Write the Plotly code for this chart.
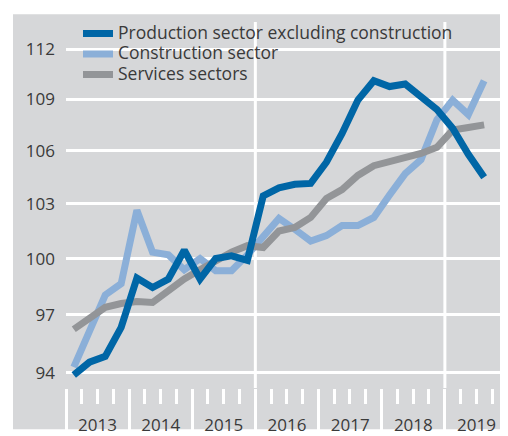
import math
import pandas as pd
import plotly.graph_objects as go

# ---------------- data ----------------
quarters = ["2013Q1", "2013Q2", "2013Q3", "2013Q4",
            "2014Q1", "2014Q2", "2014Q3", "2014Q4",
            "2015Q1", "2015Q2", "2015Q3", "2015Q4",
            "2016Q1", "2016Q2", "2016Q3", "2016Q4",
            "2017Q1", "2017Q2", "2017Q3", "2017Q4",
            "2018Q1", "2018Q2", "2018Q3", "2018Q4",
            "2019Q1", "2019Q2", "2019Q3"]

production_excl_construction = [93.9, 94.55, 94.85, 96.35, 98.95, 98.45, 98.9, 100.45,
                                98.9, 100.0, 100.15, 99.9, 103.45, 103.9, 104.1, 104.15,
                                105.35, 107.0, 108.95, 110.1, 109.75, 109.9, 109.15, 108.4,
                                107.3, 105.8, 104.5]
construction = [94.3, 96.1, 98.05, 98.65, 102.65, 100.35, 100.2, 99.4,
                100.0, 99.35, 99.35, 100.2, 101.15, 102.2, 101.6, 100.95,
                101.25, 101.8, 101.8, 102.25, 103.5, 104.7, 105.5, 107.8,
                108.95, 108.1, 110.1]
services = [96.25, 96.85, 97.4, 97.6, 97.7, 97.65, 98.3, 98.9,
            99.4, 99.9, 100.35, 100.7, 100.6, 101.5, 101.7, 102.25,
            103.3, 103.8, 104.6, 105.15, 105.35, 105.65, 105.85, 106.2,
            107.2, 107.35, 107.5]

y_ticks = [94, 97, 100, 103, 106, 109, 112]
marked_years = ["2016-01-01", "2019-01-01"]

# ---------------- style ----------------
BG = "#d6d7d9"
TXT = "#3a3a3a"
FONT = "Open Sans"
C_PROD = "#0066a6"
C_CONS = "#8bafd8"
C_SERV = "#939598"

per = pd.PeriodIndex(quarters, freq="Q")
x_dates = per.start_time + (per.end_time - per.start_time) / 2

W, H = 508, 436
L, R, T, B = 58, 8, 14, 41
PW, PH = W - L - R, H - T - B
X0, X1 = pd.Timestamp("2013-01-01"), pd.Timestamp("2020-01-01")
Y0, Y1 = math.log10(93.24), math.log10(113.65)


def px_x(p):
    return (p - L) / PW


def px_y(p):
    return (H - B - p) / PH


def px_date(p):
    return X0 + (X1 - X0) * px_x(p)


def px_logy(p):
    return Y0 + (Y1 - Y0) * px_y(p)


def lbl(s):
    return "<span style='font-size:17.5px'>" + s + "</span>"


fig = go.Figure()
fig.add_trace(go.Scatter(x=x_dates, y=construction, name=lbl("Construction sector"),
                         mode="lines", line=dict(color=C_CONS, width=7), legendrank=2))
fig.add_trace(go.Scatter(x=x_dates, y=services, name=lbl("Services sectors"),
                         mode="lines", line=dict(color=C_SERV, width=7), legendrank=3))
fig.add_trace(go.Scatter(x=x_dates, y=production_excl_construction,
                         name=lbl("Production sector excluding construction"),
                         mode="lines", line=dict(color=C_PROD, width=7), legendrank=1))

shapes = [
    # grey panel (white strip at top and left)
    dict(type="rect", xref="paper", yref="paper", x0=px_x(5), x1=px_x(W + 2),
         y0=px_y(H + 2), y1=px_y(6), fillcolor=BG, line=dict(width=0), layer="below"),
]
for d in marked_years:
    shapes.append(dict(type="line", xref="x", yref="paper", x0=d, x1=d, y0=0, y1=1,
                       line=dict(color="white", width=3), layer="below"))
# legend row backgrounds (cover grid where the legend sits)
for x1p, y0p, y1p in [(460, 20, 50), (283, 42, 63), (252, 62, 87)]:
    shapes.append(dict(type="rect", xref="x", yref="y",
                       x0=px_date(66), x1=px_date(x1p),
                       y0=px_logy(y1p), y1=px_logy(y0p),
                       fillcolor=BG, line=dict(width=0), layer="between"))

fig.update_layout(
    width=W, height=H,
    margin=dict(l=L, r=R, t=T, b=B),
    paper_bgcolor="white", plot_bgcolor=BG,
    font=dict(family=FONT, color=TXT),
    shapes=shapes,
    showlegend=True,
    legend=dict(x=px_x(70), y=px_y(10), xanchor="left", yanchor="top",
                bgcolor="rgba(0,0,0,0)", font=dict(size=13.5, color=TXT, family=FONT),
                tracegroupgap=0),
    xaxis=dict(type="date", range=[X0, X1],
               tick0="2013-01-01", dtick="M12", tickformat="%Y",
               ticklabelmode="period", ticks="outside", ticklen=41, tickwidth=3,
               tickcolor="white", showgrid=False, zeroline=False, showline=False,
               tickfont=dict(size=17, color=TXT, family=FONT), ticklabelstandoff=-19,
               minor=dict(dtick="M3", tick0="2013-01-01", ticks="outside", ticklen=15,
                          tickwidth=3, tickcolor="white", showgrid=False)),
    yaxis=dict(type="log", range=[Y0, Y1],
               tickvals=y_ticks, ticktext=[str(v) for v in y_ticks],
               showgrid=True, gridcolor="white", gridwidth=3, zeroline=False,
               showline=False, ticks="", ticklabelstandoff=10,
               tickfont=dict(size=17, color=TXT, family=FONT)),
)

fig.write_html("out.html")
